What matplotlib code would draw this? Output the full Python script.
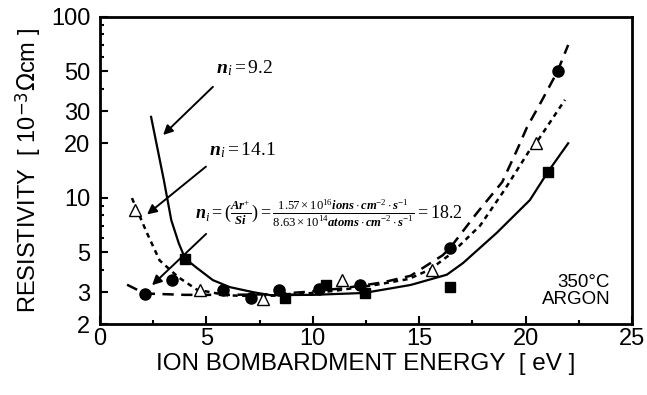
"""Resistivity vs ion bombardment energy, three ion/atom flux ratios (350 C, argon)."""

import matplotlib

matplotlib.use("Agg")
import matplotlib.pyplot as plt
from matplotlib.ticker import FixedLocator, NullFormatter

# --- measured points -------------------------------------------------------
SQ_E = [4.0, 8.7, 10.6, 12.45, 16.45, 21.05]
SQ_R = [4.6, 2.79, 3.27, 2.97, 3.2, 13.9]

TRI_E = [1.65, 4.7, 7.66, 11.37, 15.6, 20.5]
TRI_R = [8.5, 3.08, 2.74, 3.52, 3.98, 20.1]

CIR_E = [2.1, 3.4, 5.8, 7.1, 8.4, 10.3, 12.2, 16.45, 21.5]
CIR_R = [2.92, 3.5, 3.09, 2.79, 3.09, 3.12, 3.27, 5.27, 50.0]

# --- guide curves ------------------------------------------------------------
# n_i = 9.2 (solid)
SOLID_E = [2.4, 3.0, 3.35, 3.7, 4.0, 4.56, 5.3, 6.1, 7.2, 8.0, 10.0, 12.4,
           14.6, 16.3, 17.06, 18.65, 20.2, 21.05, 22.0]
SOLID_R = [28.0, 12.5, 7.5, 5.6, 4.6, 4.08, 3.5, 3.2, 3.0, 2.89, 2.9, 2.97,
           3.29, 3.75, 4.35, 6.4, 9.7, 13.9, 20.0]
# n_i = 14.1 (short dash)
DOT_E = [1.5, 2.2, 2.8, 3.67, 4.55, 6.0, 7.5, 9.0, 11.0, 13.0, 14.5, 15.5,
         16.5, 17.86, 19.0, 20.2, 20.5, 21.85]
DOT_R = [9.95, 6.4, 4.5, 3.64, 3.1, 2.88, 2.85, 2.9, 3.05, 3.3, 3.55, 4.0,
         4.9, 7.0, 11.0, 18.4, 20.1, 34.8]
# n_i = 18.2 (long dash)
DASH_E = [1.27, 2.1, 4.0, 6.0, 8.0, 9.5, 11.4, 13.3, 14.6, 16.1, 16.45, 17.7,
          18.9, 19.6, 20.07, 20.7, 21.5, 22.0]
DASH_R = [3.3, 2.95, 2.9, 2.9, 2.92, 3.0, 3.15, 3.4, 3.7, 4.8, 5.27, 8.2,
          12.2, 18.4, 24.6, 33.4, 50.0, 70.0]

Y_TICKS = [2, 3, 5, 10, 20, 30, 50, 100]
Y_MINOR = [4, 6, 7, 8, 9, 40, 60, 70, 80, 90]
X_TICKS = [0, 5, 10, 15, 20, 25]
X_MINOR = [2.5, 7.5, 12.5, 17.5, 22.5]

plt.rcParams.update({
    "font.family": ["Liberation Sans", "DejaVu Sans"],
    "mathtext.fontset": "custom",
    "mathtext.rm": "Liberation Serif",
    "mathtext.it": "Liberation Serif:italic",
    "mathtext.bf": "Liberation Serif:bold:italic",
})

fig = plt.figure(figsize=(6.47, 3.95), dpi=100)
ax = fig.add_axes([0.1546, 0.1797, 0.8222, 0.7773])

ax.plot(SOLID_E, SOLID_R, color="black", lw=1.6, ls="-")
ax.plot(DOT_E, DOT_R, color="black", lw=1.8, ls=(0, (2.0, 1.8)))
ax.plot(DASH_E, DASH_R, color="black", lw=1.8, ls=(0, (4.5, 3.0)))

ax.plot(SQ_E, SQ_R, ls="none", marker="s", ms=7, color="black")
ax.plot(CIR_E, CIR_R, ls="none", marker="o", ms=8, color="black")
ax.plot(TRI_E, TRI_R, ls="none", marker="^", ms=8, mfc="white", mec="black", mew=1.0)

ax.set_yscale("log")
ax.set_xlim(0, 25)
ax.set_ylim(2, 100)
ax.yaxis.set_major_locator(FixedLocator(Y_TICKS))
ax.yaxis.set_minor_locator(FixedLocator(Y_MINOR))
ax.yaxis.set_minor_formatter(NullFormatter())
ax.set_yticklabels([str(t) for t in Y_TICKS])
ax.set_xticks(X_TICKS)
ax.set_xticks(X_MINOR, minor=True)

ax.tick_params(which="both", direction="in", labelsize=17, width=1.5)
ax.tick_params(which="major", length=6)
ax.tick_params(axis="y", which="major", pad=7)
ax.tick_params(axis="x", which="major", pad=3)
ax.tick_params(which="minor", length=3)
for spine in ax.spines.values():
    spine.set_linewidth(2)

ax.set_xlabel("ION BOMBARDMENT ENERGY  [ eV ]", fontsize=17.5, labelpad=2)
ax.set_ylabel(r"RESISTIVITY  [ 10$^{\mathsf{-3}}$$\mathsf{\Omega}$cm ]", fontsize=17, labelpad=5)

arrow = dict(arrowstyle="-|>", color="black", lw=1.4, mutation_scale=14)
ax.annotate("", xy=(2.87, 21.7), xytext=(5.4, 42.1), arrowprops=arrow)
ax.annotate("", xy=(2.11, 7.9), xytext=(5.08, 15.2), arrowprops=arrow)
ax.annotate("", xy=(2.35, 3.2), xytext=(5.08, 6.46), arrowprops=arrow)

ax.text(5.45, 52, r"$\mathbf{n}_{\mathit{i}}\mathrm{=9.2}$", fontsize=14, va="center")
ax.text(5.12, 18.4, r"$\mathbf{n}_{\mathit{i}}\mathrm{=14.1}$", fontsize=14, va="center")
ax.text(4.46, 8.2,
        r"$\mathbf{n}_{\mathit{i}}\mathrm{=}(\frac{\mathbf{Ar}^{+}}{\mathbf{Si}})\mathrm{=}"
        r"\frac{\mathrm{1.57\times10^{16}}\mathbf{ions}\cdot \mathbf{cm}^{-2}\cdot \mathbf{s}^{-1}}"
        r"{\mathrm{8.63\times10^{14}}\mathbf{atoms}\cdot \mathbf{cm}^{-2}\cdot \mathbf{s}^{-1}}"
        r"\mathrm{=18.2}$",
        fontsize=13, va="center")

ax.text(0.959, 0.107, "350\u00b0C\nARGON", transform=ax.transAxes, ha="right",
        va="center", fontsize=13.5, linespacing=1.05)

fig.savefig("out.png", dpi=100)
